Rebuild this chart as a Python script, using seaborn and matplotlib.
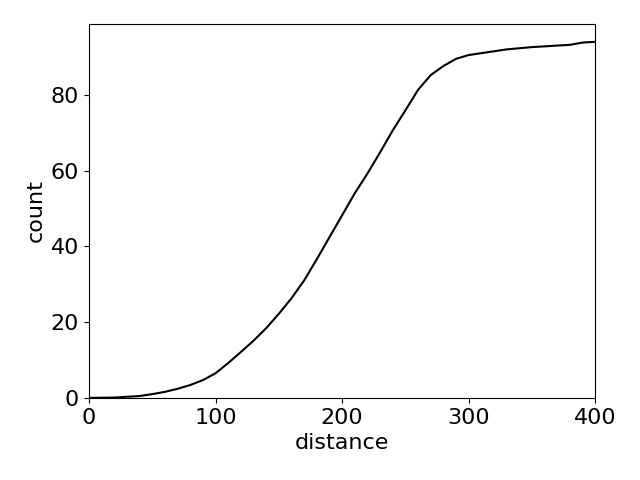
import numpy as np
import pandas as pd
import seaborn as sns
import matplotlib
matplotlib.use('Agg')
import matplotlib.pyplot as plt

# cumulative count vs distance
distance = [0, 10, 20, 30, 40, 50, 60, 70, 80, 90, 100,
            110, 120, 130, 140, 150, 160, 170, 180, 190, 200,
            210, 220, 230, 240, 250, 260, 270, 280, 290, 300,
            310, 320, 330, 340, 350, 360, 370, 380, 390, 400]
count = [0.0, 0.05, 0.1, 0.3, 0.5, 1.0, 1.6, 2.4, 3.4, 4.7, 6.5,
         9.2, 12.1, 15.1, 18.4, 22.2, 26.3, 31.0, 36.6, 42.4, 48.2,
         54.0, 59.2, 64.8, 70.6, 75.9, 81.3, 85.2, 87.6, 89.5, 90.5,
         91.0, 91.5, 92.0, 92.3, 92.6, 92.8, 93.0, 93.2, 93.8, 94.0]

df = pd.DataFrame({'distance': distance, 'count': count})

plt.rcParams['font.size'] = 16
fig, ax = plt.subplots(figsize=(6.4, 4.8), dpi=100)
sns.lineplot(data=df, x='distance', y='count', color='black', ax=ax)
ax.set_xlim(0, 400)
ax.set_ylim(bottom=0)
ax.set_xlabel('distance')
ax.set_ylabel('count')
fig.subplots_adjust(left=0.139, right=0.930, bottom=0.171, top=0.95)
plt.savefig('out.png')
